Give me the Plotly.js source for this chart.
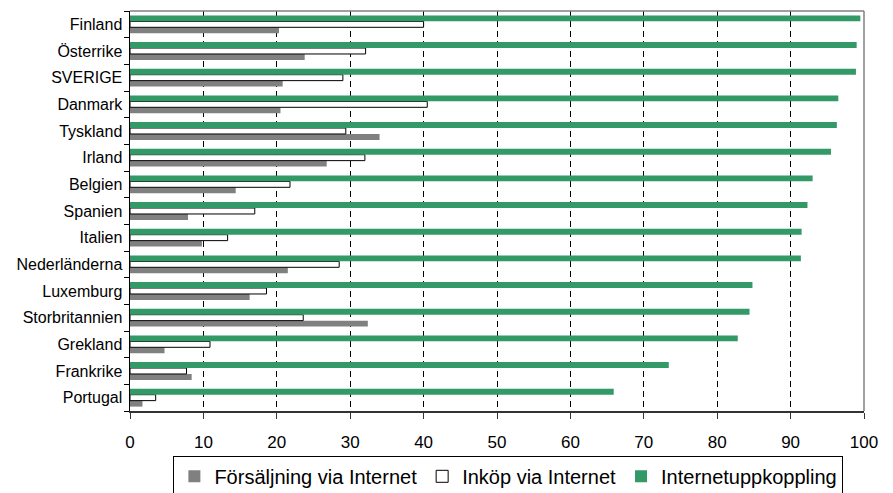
<!DOCTYPE html>
<html><head><meta charset="utf-8">
<script src="https://cdn.plot.ly/plotly-3.0.1.min.js"></script>
<style>html,body{margin:0;padding:0;background:#fff}#c{width:893px;height:493px}</style>
</head><body><div id="c"></div>
<script>
const countries = ["Finland","Österrike","SVERIGE","Danmark","Tyskland","Irland","Belgien","Spanien","Italien","Nederländerna","Luxemburg","Storbritannien","Grekland","Frankrike","Portugal"];
const forsaljning = [20.3,23.8,20.8,20.5,34.0,26.8,14.4,7.9,9.8,21.5,16.3,32.4,4.7,8.4,1.7];
const inkop = [40.0,32.1,29.0,40.5,29.4,32.0,21.8,17.0,13.3,28.5,18.6,23.6,10.9,7.7,3.5];
const uppkoppling = [99.5,99.0,98.9,96.5,96.3,95.5,93.0,92.3,91.5,91.4,84.8,84.4,82.8,73.4,65.9];
const seriesNames = ["Försäljning via Internet","Inköp via Internet","Internetuppkoppling"];
const xTicks = [0,10,20,30,40,50,60,70,80,90,100];

const F = "Liberation Sans, Arial, sans-serif";
const traces = [
  {type:"bar", orientation:"h", name:seriesNames[0], y:countries, x:forsaljning,
   marker:{color:"#808080", line:{width:0}}},
  {type:"bar", orientation:"h", name:seriesNames[1], y:countries, x:inkop,
   marker:{color:"#ffffff", line:{color:"#000000", width:1}}},
  {type:"bar", orientation:"h", name:seriesNames[2], y:countries, x:uppkoppling,
   marker:{color:"#339966", line:{width:0}}}
];
const layout = {
  width:893, height:493,
  margin:{l:130, r:29, t:11, b:81.5, autoexpand:false},
  paper_bgcolor:"#fff", plot_bgcolor:"#fff",
  font:{family:F, size:16, color:"#000"},
  barmode:"group", bargap:0.33, bargroupgap:0,
  showlegend:true,
  legend:{orientation:"h", x:0.5155, xanchor:"center", y:-0.112, yanchor:"top",
    bordercolor:"#000", borderwidth:1, font:{family:F, size:20, color:"#000"},
    traceorder:"normal", itemwidth:30, tracegroupgap:0},
  xaxis:{range:[0,100], tickvals:xTicks, ticktext:xTicks.map(String),
    showgrid:true, gridcolor:"#000", griddash:"6px,4px", gridwidth:1,
    showline:true, linecolor:"#333", linewidth:1.5,
    ticks:"outside", ticklen:6, tickcolor:"#333", ticklabelstandoff:9,
    zeroline:false, tickfont:{size:17, family:F}, fixedrange:true},
  yaxis:{type:"category", categoryorder:"array", categoryarray:countries.slice().reverse(),
    showline:true, linecolor:"#000", linewidth:1.5, ticks:"outside", ticklen:5,
    tickson:"boundaries", tickcolor:"#000", showgrid:false, zeroline:false,
    tickfont:{size:16, family:F}, ticklabelstandoff:3, fixedrange:true},
  shapes:[
    {type:"line", xref:"paper", yref:"paper", x0:0, x1:1, y0:1, y1:1, line:{color:"#808080", width:1.5}},
    {type:"line", xref:"paper", yref:"paper", x0:1, x1:1, y0:0, y1:1, line:{color:"#808080", width:1.5}}
  ]
};
Plotly.newPlot("c", traces, layout, {displayModeBar:false, staticPlot:true});
</script></body></html>
